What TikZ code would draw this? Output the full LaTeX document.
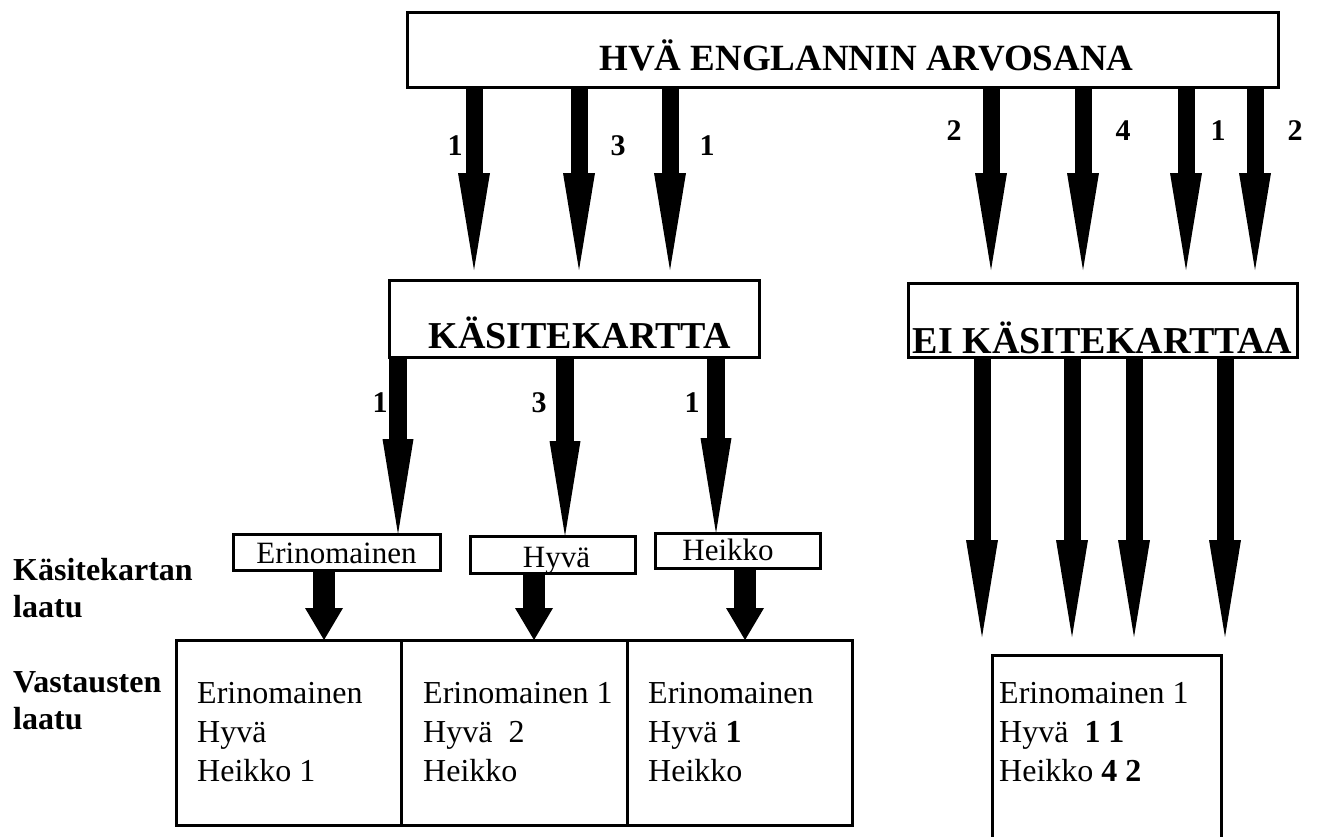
\documentclass[tikz,border=0pt]{standalone}
\usepackage{fontspec}
\setmainfont{Liberation Serif}
\usetikzlibrary{arrows.meta}
\newcommand\mylines[1]{\begin{tabular}[t]{@{}l@{}}#1\end{tabular}}
\begin{document}
\begin{tikzpicture}[x=1pt,y=-1pt,
  box/.style={draw, line width=3pt, inner sep=0pt, outer sep=0pt},
  big/.style={font=\fontsize{37}{44}\selectfont\bfseries},
  small/.style={font=\fontsize{31}{37}\selectfont},
  txt/.style={font=\fontsize{32}{39}\selectfont, anchor=base west, inner sep=0pt},
  lbl/.style={font=\fontsize{30}{36}\selectfont\bfseries, anchor=base, inner sep=0pt},
  side/.style={font=\fontsize{32}{37}\selectfont\bfseries, anchor=base west, inner sep=0pt},
  arrU/.style={line width=17pt, -{Triangle[width=32pt,length=97pt,line width=0pt]}},
  arrK/.style={line width=18pt, -{Triangle[width=31pt,length=95pt,line width=0pt]}},
  arrL/.style={line width=22pt, -{Triangle[width=38pt,length=32pt,line width=0pt]}}]
\useasboundingbox (0,0) rectangle (1322,836);
\fill[white] (0,0) rectangle (1322,836);
\clip (0,0) rectangle (1322,836);

% boxes
\node[box, big, minimum width=871pt, minimum height=75pt, text height=58pt, text depth=17pt] (top) at (842.5,49.5) {\hspace*{48pt}HVÄ ENGLANNIN ARVOSANA};
\node[box, font=\fontsize{38}{44}\selectfont\bfseries, minimum width=370pt, minimum height=77pt, text height=68pt, text depth=9pt] (kk) at (574,318.5) {\hspace*{11pt}KÄSITEKARTTA};
\node[box, font=\fontsize{38}{44}\selectfont\bfseries, minimum width=389pt, minimum height=74pt, text height=70pt, text depth=4pt] (ei) at (1102.5,320) {EI KÄSITEKARTTAA};

\node[box, small, minimum width=207pt, minimum height=36pt, text height=29pt, text depth=7pt] (e1) at (336.5,552) {Erinomainen};
\node[box, small, minimum width=165pt, minimum height=37pt, text height=31pt, text depth=6pt] (e2) at (553,554.5) {\hspace*{7pt}Hyvä};
\node[box, small, minimum width=165pt, minimum height=35pt, text height=27pt, text depth=8pt] (e3) at (737.5,550.5) {Heikko\hspace*{19pt}};

\node[box, minimum width=225pt, minimum height=185pt] (b1) at (288.5,732.5) {};
\node[box, minimum width=226pt, minimum height=185pt] (b2) at (514,732.5) {};
\node[box, minimum width=225pt, minimum height=185pt] (b3) at (739.5,732.5) {};
\node[inner sep=0pt, outer sep=0pt, minimum width=229pt, minimum height=195pt] (r) at (1106.5,752.5) {};
\draw[line width=3pt] (r.south west) -- (r.north west) -- (r.north east) -- (r.south east);

% box texts
\node[txt] (b1t) at (197,703) {\mylines{Erinomainen\\Hyvä\\Heikko 1}};
\node[txt] (b2t) at (423,703) {\mylines{Erinomainen 1\\Hyvä\ \ 2\\Heikko}};
\node[txt] (b3t) at (648,703) {\mylines{Erinomainen\\Hyvä \textbf{1}\\Heikko}};
\node[txt] (rt) at (999,703) {\mylines{Erinomainen 1\\Hyvä\ \ \textbf{1 1}\\Heikko \textbf{4 2}}};

% side labels
\node[side] (s1) at (13,580) {\mylines{Käsitekartan\\laatu}};
\node[side] (s2) at (13,692) {\mylines{Vastausten\\laatu}};

% x positions of arrows
\foreach \n/\x in {xa1/474,xa2/579,xa3/670,xa4/991,xa5/1083,xa6/1186,xa7/1255,
  xk1/398,xk2/565,xk3/716,xe1/982,xe2/1072,xe3/1134,xe4/1225,xl1/324,xl2/534,xl3/745}
  \coordinate (\n) at (\x,0);

% arrows
\foreach \c in {xa1,xa2,xa3}
  \draw[arrU, shorten >=10pt] (top.south -| \c) -- (kk.north -| \c);
\foreach \c in {xa4,xa5,xa6,xa7}
  \draw[arrU, shorten >=13pt] (top.south -| \c) -- (ei.north -| \c);
\draw[arrK] (kk.south -| xk1) -- (e1.north -| xk1);
\draw[arrK] (kk.south -| xk2) -- (e2.north -| xk2);
\draw[arrK] (kk.south -| xk3) -- (e3.north -| xk3);
\foreach \c in {xe1,xe2,xe3,xe4}
  \draw[arrU, shorten >=18pt] (ei.south -| \c) -- (r.north -| \c);
\draw[arrL] (e1.south -| xl1) -- (b1.north -| xl1);
\draw[arrL] (e2.south -| xl2) -- (b2.north -| xl2);
\draw[arrL] (e3.south -| xl3) -- (b3.north -| xl3);

% arrow labels
\node[lbl] (n1) at (455,155) {1};
\node[lbl] (n2) at (618,155) {3};
\node[lbl] (n3) at (707,155) {1};
\node[lbl] (n4) at (954,140) {2};
\node[lbl] (n5) at (1123,140) {4};
\node[lbl] (n6) at (1218,140) {1};
\node[lbl] (n7) at (1295,140) {2};
\node[lbl] (n8) at (380,412) {1};
\node[lbl] (n9) at (539,412) {3};
\node[lbl] (n10) at (692,412) {1};
\end{tikzpicture}
\end{document}
